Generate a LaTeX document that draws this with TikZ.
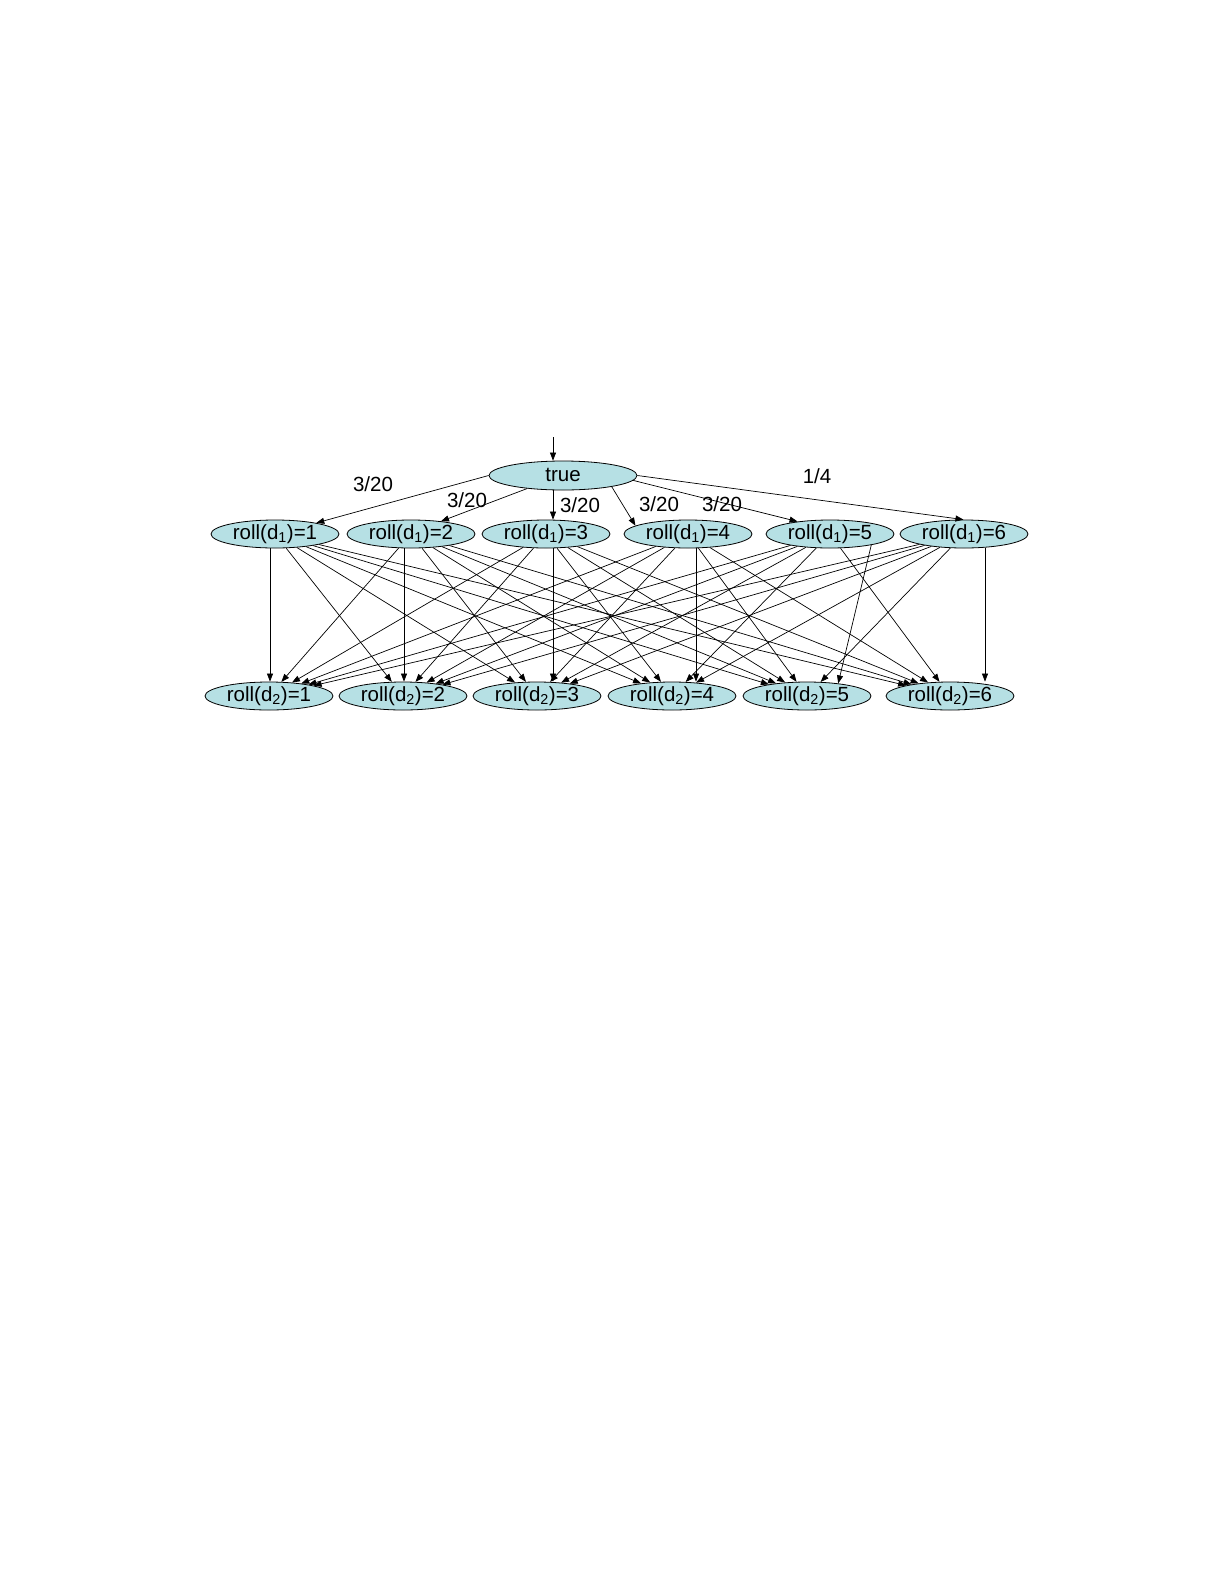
\documentclass[tikz,border=0pt]{standalone}
\usepackage{fontspec}
\setmainfont{Liberation Sans}
\usetikzlibrary{shapes.geometric,arrows.meta}
\definecolor{nodefill}{RGB}{182,224,228}
\begin{document}
\begin{tikzpicture}[x=1pt,y=-1pt,
  state/.style={ellipse,draw=black,line width=0.8pt,fill=nodefill,inner sep=0pt,
    minimum width=128pt,minimum height=28pt,text height=15pt,text depth=4pt,
    font=\fontsize{20.5}{24}\selectfont},
  edge/.style={-{Triangle[length=8pt,width=6pt]},line width=0.7pt},
  lbl/.style={font=\fontsize{20.5}{24}\selectfont,inner sep=0pt}]
\useasboundingbox (0,0) rectangle (1225,1585);

% root
\node[state,minimum width=148pt,minimum height=29pt] (true) at (563,475.5) {true};

% first row
\node[state] (t1) at (275,534) {roll(d\textsubscript{1})=1};
\node[state] (t2) at (411,534) {roll(d\textsubscript{1})=2};
\node[state] (t3) at (546,534) {roll(d\textsubscript{1})=3};
\node[state] (t4) at (688,534) {roll(d\textsubscript{1})=4};
\node[state] (t5) at (830,534) {roll(d\textsubscript{1})=5};
\node[state] (t6) at (964,534) {roll(d\textsubscript{1})=6};

% second row
\node[state] (b1) at (269,696) {roll(d\textsubscript{2})=1};
\node[state] (b2) at (403,696) {roll(d\textsubscript{2})=2};
\node[state] (b3) at (537,696) {roll(d\textsubscript{2})=3};
\node[state] (b4) at (672,696) {roll(d\textsubscript{2})=4};
\node[state] (b5) at (807,696) {roll(d\textsubscript{2})=5};
\node[state] (b6) at (950,696) {roll(d\textsubscript{2})=6};

% incoming arrow
\coordinate (start) at (553,437);
\draw[edge] (start) -- ([xshift=-10pt]true.north);

% edges from root
\draw[edge] (true.west) -- (t1.15);
\draw[edge] (true.200) -- (t2.23);
\draw[edge] ([xshift=-10pt]true.south) -- ([xshift=7pt]t3.north);
\draw[edge] (true.347) -- (t4.171);
\draw[edge] (true.356) -- (t5.159);
\draw[edge] (true.east) -- (t6.92);

% labels
\node[lbl] (l1) at (373,484) {3/20};
\node[lbl] (l2) at (467,500) {3/20};
\node[lbl] (l3) at (580,505) {3/20};
\node[lbl] (l4) at (659,504) {3/20};
\node[lbl] (l5) at (722,504) {3/20};
\node[lbl] (l6) at (817,476) {1/4};

% edges between rows
\foreach \i in {1,...,6}{
  \foreach \j in {1,...,6}{
    \ifnum\i=\j\else\draw[edge] (t\i) -- (b\j);\fi
  }
}
\draw[edge] ([xshift=-5pt]t1.south) -- ([xshift=1pt]b1.north);
\draw[edge] ([xshift=-7pt]t2.south) -- ([xshift=1pt]b2.north);
\draw[edge] ([xshift=7pt]t3.south) -- ([xshift=16pt]b3.north);
\draw[edge] ([xshift=8pt]t4.south) -- ([xshift=24pt]b4.north);
\draw[edge] (t5.-15) -- (b5.22);
\draw[edge] ([xshift=21pt]t6.south) -- ([xshift=35pt]b6.north);
\end{tikzpicture}
\end{document}
